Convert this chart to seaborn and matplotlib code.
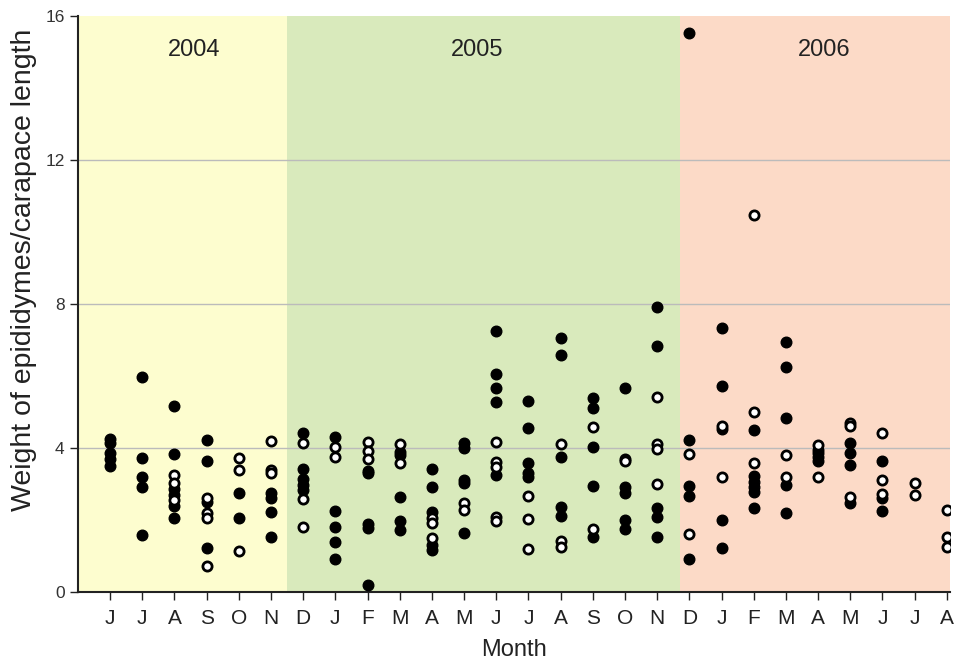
import numpy as np
import pandas as pd
import matplotlib
matplotlib.use("Agg")
import matplotlib.pyplot as plt
import seaborn as sns

# Month labels, June 2004 through August 2006
months = ["J", "J", "A", "S", "O", "N",
          "D", "J", "F", "M", "A", "M", "J", "J", "A", "S", "O", "N",
          "D", "J", "F", "M", "A", "M", "J", "J", "A"]

# Epididymes weight / carapace length, one list per month
filled = [
    [4.25, 4.15, 3.85, 3.7, 3.5],
    [5.98, 3.73, 3.2, 2.91, 1.57],
    [5.17, 3.83, 2.85, 2.7, 2.4, 2.06],
    [4.22, 3.64, 2.5, 1.23],
    [2.76, 2.05],
    [2.76, 2.6, 2.23, 1.54],
    [4.41, 3.43, 3.13, 2.97, 2.83],
    [4.3, 2.25, 1.81, 1.38, 0.93],
    [3.37, 3.3, 1.89, 1.77, 0.19],
    [3.9, 3.81, 2.65, 1.98, 1.72],
    [3.41, 2.93, 2.23, 1.31, 1.17],
    [4.15, 3.99, 3.11, 3.02, 1.63],
    [7.25, 6.06, 5.66, 5.29, 3.25],
    [5.31, 4.55, 3.57, 3.3, 3.19],
    [7.05, 6.58, 3.74, 2.37, 2.11],
    [5.4, 5.1, 4.04, 2.94, 1.52],
    [5.66, 2.93, 2.76, 2.0, 1.76],
    [7.91, 6.84, 2.32, 2.09, 1.52],
    [15.53, 4.22, 2.95, 2.67, 0.91],
    [7.34, 5.73, 4.52, 2.0, 1.21],
    [4.5, 3.22, 3.06, 2.93, 2.79, 2.32],
    [6.94, 6.26, 4.84, 2.97, 2.2],
    [3.95, 3.85, 3.75, 3.65],
    [4.13, 3.85, 3.53, 2.48],
    [3.64, 2.6, 2.25],
    [],
    [],
]
open_ = [
    [],
    [],
    [3.25, 3.04, 2.56],
    [2.6, 2.2, 2.05, 0.72],
    [3.73, 3.39, 1.15],
    [4.2, 3.4, 3.3],
    [4.15, 2.57, 1.8],
    [4.04, 3.76],
    [4.18, 3.92, 3.69],
    [4.1, 3.57],
    [2.05, 1.91, 1.49],
    [2.48, 2.28],
    [4.18, 3.6, 3.48, 2.09, 1.98],
    [2.67, 2.02, 1.19],
    [4.1, 1.43, 1.24],
    [4.57, 1.76],
    [3.69, 3.65],
    [5.43, 4.1, 3.96, 3.0],
    [3.83, 1.61],
    [4.62, 3.2],
    [10.47, 5.01, 3.57],
    [3.81, 3.2],
    [4.08, 3.2],
    [4.69, 4.62, 2.63],
    [4.43, 3.11, 2.71],
    [3.02, 2.69],
    [2.28, 1.54, 1.24],
]

years = ["2004", "2005", "2006"]
year_spans = [(-1.0, 5.5), (5.5, 17.7), (17.7, 26.1)]
year_colors = ["#fdfdcf", "#d9eabc", "#fcdac7"]
year_label_x = [2.6, 11.4, 22.2]

rows = []
for i, vals in enumerate(filled):
    rows += [{"month": i, "value": v, "kind": "filled"} for v in vals]
for i, vals in enumerate(open_):
    rows += [{"month": i, "value": v, "kind": "open"} for v in vals]
df = pd.DataFrame(rows)

sns.set_style("white")
plt.rcParams["font.family"] = ["Liberation Sans", "DejaVu Sans"]

fig = plt.figure(figsize=(9.62, 6.64), dpi=100)
ax = fig.add_axes([0.081, 0.1084, 0.9065, 0.8676])

for (x0, x1), c in zip(year_spans, year_colors):
    ax.axvspan(x0, x1, color=c, zorder=0, lw=0)

for yv in [4, 8, 12]:
    ax.axhline(yv, color="#bbbbbb", lw=1.0, zorder=1)

sns.scatterplot(data=df[df.kind == "filled"], x="month", y="value", ax=ax,
                color="black", edgecolor="black", s=58, linewidth=1.0,
                zorder=3, legend=False)
sns.scatterplot(data=df[df.kind == "open"], x="month", y="value", ax=ax,
                color="white", edgecolor="black", s=44, linewidth=2.0,
                zorder=4, legend=False)

for name, xl in zip(years, year_label_x):
    ax.text(xl, 15.05, name, ha="center", va="center", fontsize=17,
            color="#222222")

ax.set_xlim(-1.0, 26.1)
ax.set_ylim(0, 16)
ax.set_xticks(range(len(months)))
ax.set_xticklabels(months, fontsize=15, color="#222222")
ax.set_yticks([0, 4, 8, 12, 16])
ax.set_yticklabels(["0", "4", "8", "12", "16"], fontsize=12.5, color="#333333")
ax.tick_params(axis="both", direction="out", length=6, width=1.0,
               color="#222222", bottom=True, left=True)
ax.tick_params(axis="x", pad=6)

for side in ["top", "right"]:
    ax.spines[side].set_visible(False)
for side in ["left", "bottom"]:
    ax.spines[side].set_color("#222222")
    ax.spines[side].set_linewidth(1.5)

ax.set_xlabel("Month", fontsize=17, color="#222222", labelpad=8)
ax.set_ylabel("Weight of epididymes/carapace length", fontsize=20.5,
              color="#222222")
ax.yaxis.set_label_coords(-0.047, 0.56)

fig.savefig("out.png", dpi=100, facecolor="white")
